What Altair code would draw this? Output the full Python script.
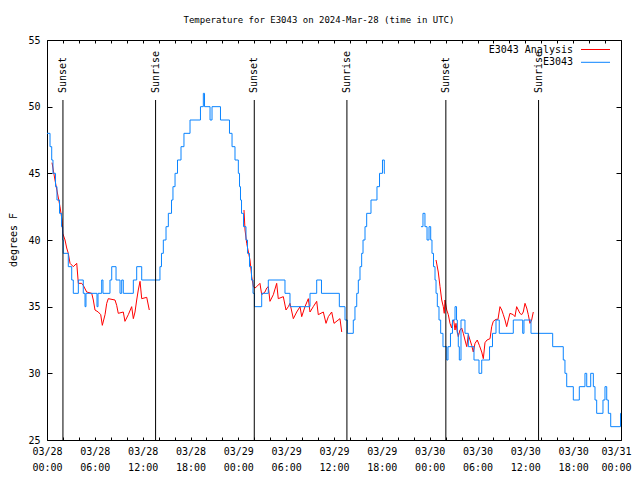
import altair as alt
import pandas as pd

# ---------------- data (hours after 2024-03-28 00:00 UTC, deg F) ----------------
# Observed E3043 (blue), two segments with a data gap
obs1_hours = [0.00, 0.38, 0.59, 0.75, 1.07, 1.25, 1.57, 1.82, 1.97, 2.04, 2.67, 3.10, 3.30, 3.93,
              4.55, 4.77, 4.89, 6.27, 6.40, 6.86, 7.02, 7.90, 8.12, 8.66, 9.16, 9.37, 9.57, 10.83,
              11.25, 11.88, 14.17, 14.36, 14.59, 14.93, 15.22, 15.62, 15.80, 16.06, 16.37, 16.81,
              17.18, 17.94, 19.25, 19.61, 19.76, 20.45, 20.70, 21.76, 22.89, 23.21, 23.58, 24.00,
              24.15, 24.27, 24.40, 24.65, 24.96, 25.15, 25.40, 25.65, 25.84, 26.03, 26.93, 27.76,
              29.85, 30.48, 32.99, 33.83, 34.43, 36.67, 37.38, 37.67, 38.42, 38.63, 38.85, 39.05,
              39.26, 39.47, 39.64, 39.89, 40.10, 40.64, 41.39, 41.71, 42.08, 42.31, 42.40]
obs1_temps = [48, 47, 46, 45, 44, 43, 42, 41, 40, 39, 38, 37, 36, 37,
              36, 35, 36, 35, 36, 37, 36, 37, 38, 37, 36, 37, 36, 37,
              38, 37, 38, 39, 40, 41, 42, 43, 44, 45, 46, 47,
              48, 49, 50, 51, 50, 49, 50, 49, 48, 47, 46, 45,
              44, 43, 42, 41, 40, 39, 38, 37, 36, 35, 36, 37,
              36, 35, 36, 37, 36, 35, 34, 33, 34, 35, 36, 37,
              38, 39, 40, 41, 42, 43, 44, 45, 46, 45, 45]
obs2_hours = [46.91, 47.16, 47.41, 47.67, 47.92, 48.13, 48.29, 48.48, 48.67, 48.80, 48.96, 49.17,
              49.38, 49.67, 50.14, 50.30, 50.61, 50.86, 51.18, 51.37, 51.47, 51.59, 51.72, 51.93,
              52.43, 52.85, 53.56, 54.19, 54.53, 55.51, 55.88, 56.32, 56.73, 58.49, 59.67, 59.83,
              60.71, 63.43, 64.76, 64.97, 65.19, 66.02, 66.77, 67.48, 67.70, 68.20, 68.53, 68.74,
              68.95, 69.74, 69.99, 70.21, 70.41, 70.71, 71.94, 72.00]
obs2_temps = [41, 42, 41, 40, 41, 40, 39, 38, 37, 36, 35, 34,
              33, 32, 31, 32, 33, 34, 35, 34, 33, 32, 31, 34,
              33, 32, 31, 30, 31, 32, 33, 34, 33, 34, 33, 34,
              33, 32, 31, 30, 29, 28, 29, 30, 29, 30, 29, 28,
              27, 28, 29, 28, 27, 26, 27, 27]

# Analysis (red), three segments
ana1_hours = [0.63, 1.00, 1.38, 1.63, 1.88, 1.97, 2.26, 2.47, 2.67, 2.89, 3.30, 3.73, 3.93, 4.35,
              4.55, 4.98, 5.61, 5.81, 6.02, 6.43, 6.74, 6.94, 7.28, 7.49, 7.69, 8.53, 8.74, 8.94,
              9.57, 9.78, 10.20, 10.62, 10.83, 11.04, 11.25, 11.45, 11.67, 11.88, 12.51, 12.83]
ana1_temps = [45.8, 44.5, 43.3, 42.5, 41.5, 40.5, 40.0, 39.4, 39.0, 38.25, 38.0, 38.25, 36.75, 36.75,
              36.6, 36.1, 36.0, 35.5, 34.75, 34.6, 34.4, 33.6, 34.4, 35.25, 35.6, 35.5, 35.1, 34.5,
              34.6, 33.9, 34.4, 35.0, 34.1, 34.6, 35.5, 36.25, 36.9, 35.6, 35.7, 34.75]
ana2_hours = [24.71, 24.84, 25.05, 25.46, 25.68, 25.88, 26.09, 26.30, 26.71, 26.93, 27.34, 27.56,
              27.76, 27.97, 28.39, 28.81, 29.01, 29.64, 29.98, 30.27, 30.48, 30.90, 31.32, 31.74,
              31.95, 32.36, 32.78, 32.99, 33.40, 33.83, 34.03, 34.66, 35.00, 35.29, 35.71, 36.00,
              36.75, 36.97]
ana2_temps = [42.25, 40.75, 39.75, 38.5, 37.25, 36.5, 36.4, 36.5, 36.75, 35.9, 36.1, 36.4,
              36.5, 35.4, 35.9, 36.75, 35.6, 35.75, 34.75, 35.0, 35.25, 34.1, 34.6, 35.0,
              34.25, 35.0, 35.6, 34.6, 35.0, 35.4, 34.4, 34.6, 33.75, 34.25, 34.6, 33.75,
              34.1, 33.1]
ana3_hours = [48.80, 49.08, 49.30, 49.51, 49.71, 49.83, 49.92, 50.14, 50.34, 50.55, 50.76, 50.89,
              51.01, 51.18, 51.30, 51.47, 51.59, 51.80, 52.02, 52.22, 52.43, 52.65, 52.85, 53.06,
              53.27, 53.47, 53.69, 53.97, 54.23, 54.53, 54.73, 54.94, 55.19, 55.57, 55.78, 55.98,
              56.32, 56.57, 56.82, 57.04, 57.24, 57.45, 57.66, 57.86, 58.07, 58.49, 58.70, 58.91,
              59.12, 59.32, 59.54, 59.74, 59.96, 60.17, 60.37, 60.58, 60.79, 61.00]
ana3_temps = [38.5, 37.6, 36.5, 35.5, 35.0, 34.5, 35.5, 34.75, 34.4, 33.75, 33.4, 33.9,
              34.0, 33.25, 33.75, 33.1, 32.75, 33.25, 33.4, 33.0, 32.5, 32.0, 32.9, 32.5,
              32.1, 31.6, 32.25, 32.5, 32.1, 31.6, 31.1, 32.3, 32.5, 32.6, 33.5, 33.9,
              34.05, 34.05, 35.0, 34.75, 34.4, 34.0, 33.5, 34.0, 34.5, 34.4, 34.25, 35.0,
              34.75, 34.5, 34.4, 34.6, 35.25, 34.9, 34.4, 33.75, 34.0, 34.6]

sun_hours = [2.00, 13.62, 26.00, 37.62, 50.03, 61.66]
sun_labels = ["Sunset", "Sunrise", "Sunset", "Sunrise", "Sunset", "Sunrise"]

x_tick_hours = list(range(0, 73, 2))
x_label_hours = list(range(0, 73, 6))
y_ticks = [25, 30, 35, 40, 45, 50, 55]

series_names = ["E3043 Analysis", "E3043"]
series_colors = ["#ff0000", "#0a84ff"]
title_text = "Temperature for E3043 on 2024-Mar-28 (time in UTC)"
y_title = "degrees F"

# ---------------- build ----------------
W, H = 574, 400
FONT = "DejaVu Sans Mono"
FS = 10

obs = pd.concat([
    pd.DataFrame({"h": obs1_hours, "t": obs1_temps, "seg": "a"}),
    pd.DataFrame({"h": obs2_hours, "t": obs2_temps, "seg": "b"}),
])
ana = pd.concat([
    pd.DataFrame({"h": ana1_hours, "t": ana1_temps, "seg": "a"}),
    pd.DataFrame({"h": ana2_hours, "t": ana2_temps, "seg": "b"}),
    pd.DataFrame({"h": ana3_hours, "t": ana3_temps, "seg": "c"}),
])
sun = pd.DataFrame({"h": sun_hours, "label": sun_labels})
one = pd.DataFrame({"a": [0]})

xs = alt.Scale(domain=[0, 72], nice=False, zero=False)
ys = alt.Scale(domain=[25, 55], nice=False, zero=False)

label_expr = ("['03/' + (28 + floor(datum.value / 24)), "
              "((datum.value % 24) < 10 ? '0' : '') + (datum.value % 24) + ':00']")

common_tick = dict(labels=False, domain=False, grid=False, ticks=True, tickColor="black",
                   tickWidth=1, title=None)

ax_x_labels = alt.Axis(orient="bottom", values=x_label_hours, labelExpr=label_expr, ticks=False,
                       domain=False, grid=False, labelFont=FONT, labelFontSize=FS,
                       labelColor="black", labelPadding=6, labelLineHeight=16,
                       labelBaseline="top", labelFlush=False, labelOverlap=False, title=None,
                       labelOffset={"condition": {"test": "datum.value >= 72", "value": -5},
                                    "value": 0})
ax_x_in_bottom = alt.Axis(orient="top", offset=-H, values=x_tick_hours, tickSize=3, **common_tick)
ax_x_in_top = alt.Axis(orient="bottom", offset=-H, values=x_tick_hours, tickSize=3, **common_tick)
ax_y_labels = alt.Axis(orient="left", values=y_ticks, ticks=False, domain=False, grid=False,
                       labelFont=FONT, labelFontSize=FS, labelColor="black", labelPadding=7,
                       title=None)
ax_y_in_left = alt.Axis(orient="right", offset=-W, values=y_ticks, tickSize=5, **common_tick)
ax_y_in_right = alt.Axis(orient="left", offset=-W, values=y_ticks, tickSize=5, **common_tick)

ana_line = alt.Chart(ana).mark_line(color=series_colors[0], strokeWidth=1).encode(
    x=alt.X("h:Q", scale=xs, axis=ax_x_labels),
    y=alt.Y("t:Q", scale=ys, axis=ax_y_labels),
    detail="seg:N",
)
obs_line = alt.Chart(obs).mark_line(color=series_colors[1], strokeWidth=1,
                                    interpolate="step-after").encode(
    x=alt.X("h:Q", scale=xs, axis=ax_x_in_bottom),
    y=alt.Y("t:Q", scale=ys, axis=ax_y_in_left),
    detail="seg:N",
)
sun_rules = alt.Chart(sun).mark_rule(color="black", strokeWidth=1).encode(
    x=alt.X("h:Q", scale=xs, axis=ax_x_in_top),
    y=alt.value(60),
    y2=alt.value(H),
)
sun_text = alt.Chart(sun).mark_text(angle=270, align="left", baseline="middle",
                                    font=FONT, fontSize=FS, color="black").encode(
    x=alt.X("h:Q", scale=xs, axis=None),
    y=alt.value(53),
    text="label:N",
)
# right-edge inward y ticks carried by an invisible layer
y_right = alt.Chart(sun).mark_point(opacity=0).encode(
    x=alt.X("h:Q", scale=xs, axis=None),
    y=alt.Y("yy:Q", scale=ys, axis=ax_y_in_right),
).transform_calculate(yy="40")

title_mark = alt.Chart(one).mark_text(font=FONT, fontSize=9, color="black",
                                      align="center", baseline="middle").encode(
    x=alt.value(272), y=alt.value(-20), text=alt.value(title_text))
ytitle_mark = alt.Chart(one).mark_text(font=FONT, fontSize=FS, color="black", angle=270,
                                       align="center", baseline="middle").encode(
    x=alt.value(-33), y=alt.value(200), text=alt.value(y_title))

legend_layers = []
for i, (name, col) in enumerate(zip(series_names, series_colors)):
    yy = 9.5 + i * 12.8
    legend_layers.append(alt.Chart(one).mark_text(font=FONT, fontSize=FS, color="black",
                                                  align="right", baseline="middle").encode(
        x=alt.value(526), y=alt.value(yy), text=alt.value(name)))
    legend_layers.append(alt.Chart(one).mark_rule(color=col, strokeWidth=1).encode(
        x=alt.value(534), x2=alt.value(563), y=alt.value(yy)))

chart = alt.layer(
    ana_line, obs_line, sun_rules, sun_text, y_right, title_mark, ytitle_mark, *legend_layers
).resolve_axis(x="independent", y="independent").properties(
    width=W, height=H,
    autosize=alt.AutoSizeParams(type="none"),
    padding={"left": 39, "top": 32, "right": 11, "bottom": 32},
    background="white",
).configure_view(stroke="black", strokeWidth=1)

chart.save("out.html", embed_options={"renderer": "svg", "actions": False})
